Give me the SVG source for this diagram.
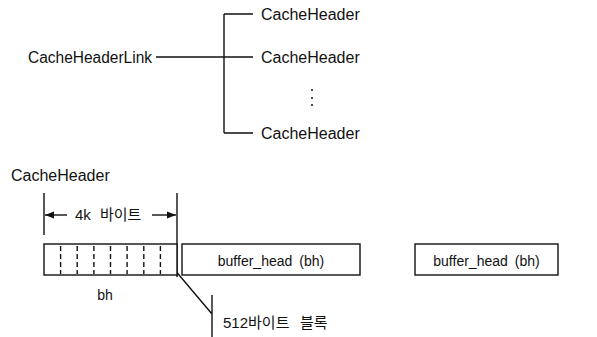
<svg xmlns="http://www.w3.org/2000/svg" width="597" height="337" viewBox="0 0 597 337">
<defs>
<style>
.t{font-family:"Liberation Sans",Arial,sans-serif;fill:#111}
.big{font-size:16px}
.sm{font-size:14px}
.k{font-family:"Liberation Sans","Noto Sans CJK KR",sans-serif;font-size:15px;fill:#111}
.ln{stroke:#111;stroke-width:1.4;fill:none}
.box{stroke:#111;stroke-width:1.4;fill:#fff}
.dash{stroke:#111;stroke-width:1.4;stroke-dasharray:5 3}
</style>
<marker id="ah" markerWidth="10" markerHeight="8" refX="9" refY="4" orient="auto" markerUnits="userSpaceOnUse">
<path d="M0,0.5 L9,4 L0,7.5 Z" fill="#111"/>
</marker>
</defs>
<rect width="597" height="337" fill="#fff"/>

<g id="connectors">
<path class="ln" d="M156,57 H253 M224,14 V133 M224,14 H253 M224,133 H253"/>
<path class="ln" d="M44,193 V235 M177,193 V277"/>
<path class="ln" d="M67,215 H45" marker-end="url(#ah)"/>
<path class="ln" d="M152,215 H176" marker-end="url(#ah)"/>
<path class="ln" d="M163,256 L212,314 M212,295 V337"/>
</g>

<g id="link"><text class="t big" x="28" y="63" textLength="124" lengthAdjust="spacingAndGlyphs">CacheHeaderLink</text></g>
<g id="ch1"><text class="t big" x="261" y="20">CacheHeader</text></g>
<g id="ch2"><text class="t big" x="261" y="63">CacheHeader</text></g>
<g id="dots"><circle cx="312" cy="90" r="1" fill="#111"/><circle cx="312" cy="98" r="1" fill="#111"/><circle cx="312" cy="105" r="1" fill="#111"/></g>
<g id="ch3"><text class="t big" x="261" y="139">CacheHeader</text></g>

<g id="title"><text class="t big" x="11" y="181">CacheHeader</text></g>
<g id="size4k"><text class="k" x="75" y="220">4k<tspan x="100">바이트</tspan></text></g>

<g id="bhblock">
<rect class="box" x="44" y="244" width="133" height="31"/>
<path class="dash" d="M60.6,246 V274 M77.2,246 V274 M93.9,246 V274 M110.5,246 V274 M127.1,246 V274 M143.8,246 V274 M160.4,246 V274"/>
<text class="t sm" x="105" y="300" text-anchor="middle">bh</text>
</g>

<g id="bh1">
<rect class="box" x="182" y="244" width="178" height="31"/>
<text class="t sm" x="271" y="266" text-anchor="middle">buffer_head<tspan dx="7">(bh)</tspan></text>
</g>
<g id="bh2">
<rect class="box" x="415" y="244" width="143" height="31"/>
<text class="t sm" x="486.5" y="266" text-anchor="middle">buffer_head<tspan dx="7">(bh)</tspan></text>
</g>

<g id="blk512"><text class="k" x="223" y="328">512바이트<tspan x="300">블록</tspan></text></g>
</svg>
